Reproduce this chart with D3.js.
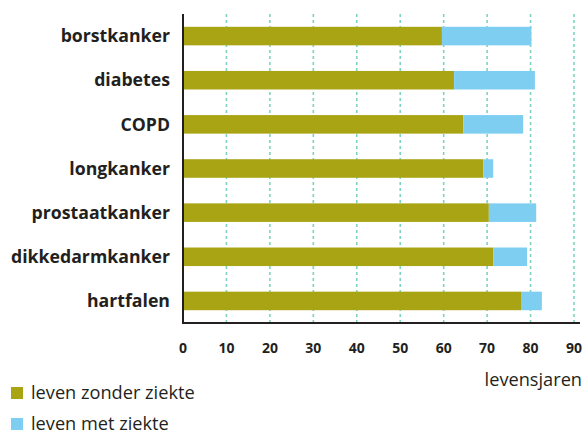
<!DOCTYPE html>
<html>
<head>
<meta charset="utf-8">
<script src="https://cdn.jsdelivr.net/npm/d3@7"></script>
<style>
  html, body { margin: 0; padding: 0; background: #fff; }
  svg { display: block; }
  text { font-family: "Open Sans", "Noto Sans", sans-serif; fill: #231f20; }
</style>
</head>
<body>
<svg id="chart" width="584" height="434"></svg>
<script>
const categories = ["borstkanker", "diabetes", "COPD", "longkanker", "prostaatkanker", "dikkedarmkanker", "hartfalen"];
const zonderZiekte = [59.6, 62.4, 64.5, 69.1, 70.4, 71.4, 77.8];
const metZiekte = [20.6, 18.6, 13.8, 2.3, 10.9, 7.8, 4.8];
const xTicks = [0, 10, 20, 30, 40, 50, 60, 70, 80, 90];
const seriesNames = ["leven zonder ziekte", "leven met ziekte"];
const seriesColors = ["#a8a414", "#7ecef2"];
const axisTitle = "levensjaren";

const svg = d3.select("#chart");
const mLeft = 183, mRight = 574, mTop = 14, mBottom = 323;

const x = d3.scaleLinear().domain([0, 90]).range([mLeft, mRight]);
const y = d3.scaleBand().domain(categories).range([mTop, mBottom]).paddingInner(0.58).paddingOuter(0.29);

const rows = categories.map((c, i) => ({ cat: c, a: zonderZiekte[i], b: metZiekte[i] }));

// gridlines
svg.append("g").selectAll("line").data(xTicks.filter(t => t > 0)).join("line")
  .attr("x1", d => x(d)).attr("x2", d => x(d))
  .attr("y1", mTop).attr("y2", mBottom)
  .attr("stroke", "#7dd3c2").attr("stroke-width", 1.6)
  .attr("stroke-dasharray", "3,3");

// bars
const g = svg.append("g");
g.selectAll("rect.a").data(rows).join("rect").attr("class", "a")
  .attr("x", x(0)).attr("y", d => y(d.cat))
  .attr("width", d => x(d.a) - x(0)).attr("height", y.bandwidth())
  .attr("fill", seriesColors[0]);
g.selectAll("rect.b").data(rows).join("rect").attr("class", "b")
  .attr("x", d => x(d.a)).attr("y", d => y(d.cat))
  .attr("width", d => x(d.a + d.b) - x(d.a)).attr("height", y.bandwidth())
  .attr("fill", seriesColors[1]);

// axes lines
svg.append("line").attr("x1", mLeft).attr("x2", mLeft).attr("y1", mTop).attr("y2", mBottom + 1)
  .attr("stroke", "#231f20").attr("stroke-width", 2);
svg.append("line").attr("x1", mLeft - 1).attr("x2", 580).attr("y1", mBottom).attr("y2", mBottom)
  .attr("stroke", "#231f20").attr("stroke-width", 2);

// category labels
svg.append("g").selectAll("text").data(categories).join("text")
  .attr("x", 170).attr("y", d => y(d) + y.bandwidth() / 2)
  .attr("dy", "0.35em").attr("text-anchor", "end")
  .attr("font-size", 17.7).attr("font-weight", "bold")
  .text(d => d);

// tick labels
svg.append("g").selectAll("text").data(xTicks).join("text")
  .attr("x", d => x(d)).attr("y", 353)
  .attr("text-anchor", "middle").attr("font-size", 14).attr("font-weight", "bold")
  .text(d => d);

svg.append("text").attr("x", 582).attr("y", 386).attr("text-anchor", "end")
  .attr("font-size", 18.2).text(axisTitle);

// legend
const leg = svg.append("g").selectAll("g").data(seriesNames).join("g")
  .attr("transform", (d, i) => `translate(11, ${387 + i * 31})`);
leg.append("rect").attr("width", 12).attr("height", 12).attr("fill", (d, i) => seriesColors[i]);
leg.append("text").attr("x", 20).attr("y", 11.5).attr("font-size", 18.2).text(d => d);
</script>
</body>
</html>
